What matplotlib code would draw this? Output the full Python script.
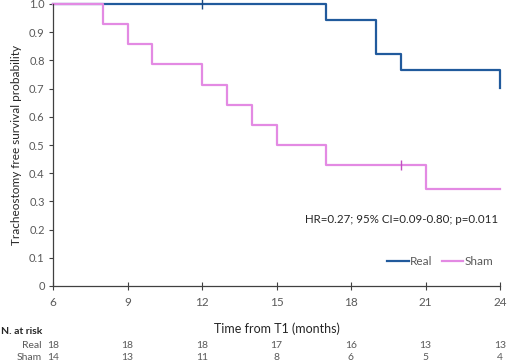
import matplotlib
matplotlib.use("Agg")
import matplotlib.pyplot as plt
import matplotlib.transforms as mtransforms

plt.rcParams['font.family'] = ['Lato', 'DejaVu Sans']

# Data
real_t = [6, 17, 19, 20, 24]
real_s = [1.0, 0.944, 0.822, 0.765, 0.703]
sham_t = [6, 8, 9, 10, 12, 13, 14, 15, 17, 21, 24]
sham_s = [1.0, 0.929, 0.857, 0.786, 0.714, 0.643, 0.571, 0.5, 0.429, 0.343, 0.343]
real_cens_t = [12]
real_cens_s = [1.0]
sham_cens_t = [20]
sham_cens_s = [0.429]
risk_times = [6, 9, 12, 15, 18, 21, 24]
risk_real = [18, 18, 18, 17, 16, 13, 13]
risk_sham = [14, 13, 11, 8, 6, 5, 4]
xticks = [6, 9, 12, 15, 18, 21, 24]
yticks = [0, 0.1, 0.2, 0.3, 0.4, 0.5, 0.6, 0.7, 0.8, 0.9, 1.0]
ytick_labels = ['0', '0.1', '0.2', '0.3', '0.4', '0.5', '0.6', '0.7', '0.8', '0.9', '1.0']

real_c = '#215A9C'
sham_c = '#E38AE3'
grey = '#595959'

fig = plt.figure(figsize=(5.08, 3.63), dpi=100)
ax = fig.add_axes([53/508, 1-286/363, 447/508, 282/363])

ax.step(real_t, real_s, where='post', color=real_c, lw=1.6, label='Real')
ax.step(sham_t, sham_s, where='post', color=sham_c, lw=1.6, label='Sham')
ax.plot(real_cens_t, real_cens_s, marker='|', ms=7, mew=1.0, color='#1B4A82', ls='none')
ax.plot(sham_cens_t, sham_cens_s, marker='|', ms=7, mew=1.0, color='#C050C0', ls='none')

ax.set_xlim(6, 24)
ax.set_ylim(0, 1.0)
ax.set_xticks(xticks)
ax.set_xticklabels([str(v) for v in xticks])
ax.set_yticks(yticks)
ax.set_yticklabels(ytick_labels)
for s in ['top', 'right']:
    ax.spines[s].set_visible(False)
for s in ['left', 'bottom']:
    ax.spines[s].set_color('#404040')
    ax.spines[s].set_linewidth(0.9)
ax.tick_params(axis='x', direction='inout', length=6, width=0.8, colors='#404040',
               labelcolor=grey, labelsize=8.5, pad=5)
ax.tick_params(axis='y', direction='out', length=3, width=0.8, colors='#404040',
               labelcolor=grey, labelsize=8, pad=3)
for line in ax.lines:
    line.set_clip_on(False)

ax.set_xlabel('Time from T1 (months)', fontsize=9, color='#262626', labelpad=10)
ax.set_ylabel('Tracheostomy free survival probability', fontsize=8.5, color='#262626', labelpad=5)

ax.text(0.995, 0.235, 'HR=0.27; 95% CI=0.09-0.80; p=0.011', transform=ax.transAxes,
        ha='right', va='center', fontsize=8.3, color='#262626')

leg = ax.legend(loc='lower right', bbox_to_anchor=(0.995, 0.05), ncol=2, frameon=False,
                fontsize=8.5, handlelength=1.8, handletextpad=0.1, columnspacing=0.8,
                borderaxespad=0)
for t in leg.get_texts():
    t.set_color(grey)

# at risk table
fig.text(1/508, 1-332/363, 'N. at risk', fontsize=7.5, fontweight='bold', color='#262626',
         ha='left', va='center')
fig.text(42/508, 1-345/363, 'Real', fontsize=7.5, color=grey, ha='right', va='center')
fig.text(42/508, 1-357/363, 'Sham', fontsize=7.5, color=grey, ha='right', va='center')
trans = mtransforms.blended_transform_factory(ax.transData, fig.transFigure)
for t, r, s in zip(risk_times, risk_real, risk_sham):
    ax.text(t, 1-345/363, str(r), transform=trans, fontsize=7.5, color=grey, ha='center', va='center')
    ax.text(t, 1-357/363, str(s), transform=trans, fontsize=7.5, color=grey, ha='center', va='center')

fig.savefig('out.png', dpi=100)
